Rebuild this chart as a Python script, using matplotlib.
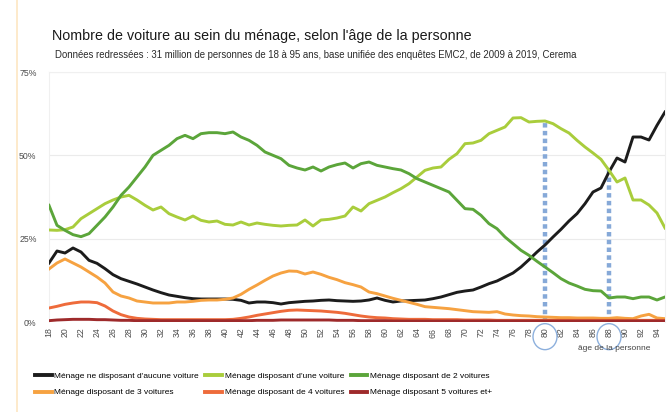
import numpy as np
import matplotlib
matplotlib.use("Agg")
import matplotlib.pyplot as plt
from matplotlib.patches import Ellipse
from matplotlib.lines import Line2D

plt.rcParams['font.family'] = ['Liberation Sans', 'DejaVu Sans']

# Âges de 18 à 95 ans
ages = list(range(18, 96))

# Part des ménages (%) selon le nombre de voitures
aucune = [17.7, 21.3, 20.7, 22.2, 21.0, 18.5, 17.6, 16.0, 14.2, 13.0,
          12.2, 11.4, 10.5, 9.6, 8.8, 8.1, 7.7, 7.3, 7.0, 6.9,
          6.9, 6.9, 6.9, 6.8, 6.5, 5.7, 6.0, 6.0, 5.8, 5.4,
          5.8, 6.0, 6.2, 6.3, 6.5, 6.6, 6.4, 6.3, 6.2, 6.3,
          6.6, 7.2, 6.5, 6.0, 6.3, 6.4, 6.5, 6.6, 7.0, 7.5,
          8.2, 8.9, 9.3, 9.6, 10.5, 11.5, 12.3, 13.5, 14.7, 16.5,
          18.7, 21.0, 23.1, 25.5, 27.8, 30.3, 32.5, 35.5, 39.0, 40.2,
          45.0, 49.2, 48.0, 55.5, 55.5, 54.6, 59.0, 63.0]
une = [27.6, 27.5, 27.7, 28.5, 31.0, 32.5, 34.0, 35.5, 36.6, 37.5,
       38.0, 36.6, 35.0, 33.6, 34.5, 32.5, 31.5, 30.6, 31.8, 30.5,
       30.0, 30.3, 29.3, 29.1, 30.0, 29.1, 29.7, 29.3, 29.0, 28.8,
       29.0, 29.1, 30.6, 28.8, 30.6, 30.8, 31.2, 31.8, 34.5, 33.3,
       35.5, 36.5, 37.5, 38.8, 40.0, 41.5, 43.5, 45.5, 46.2, 46.5,
       48.8, 50.5, 53.5, 53.7, 54.5, 56.5, 57.5, 58.5, 61.2, 61.3,
       60.0, 60.2, 60.3, 59.5, 58.0, 56.7, 54.5, 52.5, 50.7, 48.8,
       45.5, 42.0, 43.2, 36.6, 36.6, 35.1, 32.7, 28.2]
deux = [35.0, 29.0, 27.5, 26.2, 25.6, 26.5, 29.0, 31.5, 34.5, 38.0,
        40.5, 43.5, 46.5, 50.0, 51.5, 53.0, 55.0, 56.0, 55.0, 56.5,
        56.8, 56.8, 56.5, 57.0, 55.5, 54.5, 53.0, 51.0, 50.0, 49.0,
        47.0, 46.2, 45.6, 46.5, 45.3, 46.5, 47.2, 47.7, 46.2, 47.5,
        48.0, 47.0, 46.5, 46.0, 45.6, 44.5, 43.0, 42.0, 41.0, 40.0,
        39.0, 36.5, 34.0, 33.8, 32.0, 29.5, 28.0, 25.5, 23.5, 21.5,
        20.0, 18.2, 16.5, 14.8, 13.0, 11.7, 10.8, 9.8, 9.4, 9.3,
        7.2, 7.5, 7.5, 7.0, 7.5, 7.5, 6.6, 7.5]
trois = [15.9, 17.7, 18.9, 17.7, 16.5, 15.0, 13.5, 11.7, 9.0, 7.8,
         7.2, 6.3, 6.0, 5.7, 5.7, 5.7, 6.0, 6.0, 6.2, 6.5,
         6.6, 6.6, 6.8, 7.2, 8.3, 9.8, 11.1, 12.5, 13.8, 14.7,
         15.3, 15.2, 14.4, 15.0, 14.3, 13.4, 12.7, 11.8, 11.2, 10.5,
         9.0, 8.5, 7.8, 7.1, 6.5, 5.9, 5.3, 4.6, 4.4, 4.2,
         4.0, 3.7, 3.4, 3.1, 3.0, 2.9, 3.1, 2.4, 2.1, 1.9,
         1.8, 1.6, 1.5, 1.4, 1.3, 1.3, 1.2, 1.2, 1.2, 1.1,
         1.1, 1.3, 1.1, 1.0, 1.8, 2.3, 1.2, 1.0]
quatre = [4.2, 4.7, 5.3, 5.7, 6.0, 6.0, 5.8, 4.8, 3.3, 2.2,
          1.5, 1.1, 0.9, 0.8, 0.7, 0.7, 0.7, 0.7, 0.7, 0.7,
          0.7, 0.7, 0.7, 0.8, 1.1, 1.5, 2.0, 2.4, 2.8, 3.2,
          3.5, 3.6, 3.5, 3.4, 3.3, 3.1, 2.9, 2.6, 2.2, 1.8,
          1.5, 1.3, 1.2, 1.0, 0.9, 0.8, 0.8, 0.8, 0.7, 0.7,
          0.7, 0.7, 0.6, 0.6, 0.6, 0.6, 0.5, 0.5, 0.5, 0.5,
          0.5, 0.5, 0.5, 0.5, 0.5, 0.5, 0.5, 0.5, 0.5, 0.5,
          0.5, 0.5, 0.5, 0.5, 0.5, 0.5, 0.5, 0.5]
cinq = [0.4, 0.6, 0.7, 0.8, 0.8, 0.8, 0.7, 0.7, 0.6, 0.5,
        0.5, 0.4, 0.4, 0.4, 0.4, 0.4, 0.4, 0.4, 0.4, 0.4,
        0.4, 0.4, 0.4, 0.4, 0.4, 0.4, 0.5, 0.5, 0.5, 0.6,
        0.6, 0.6, 0.6, 0.6, 0.6, 0.6, 0.5, 0.5, 0.5, 0.4,
        0.4, 0.4, 0.4, 0.3, 0.3, 0.3, 0.3, 0.3, 0.3, 0.3,
        0.3, 0.3, 0.3, 0.3, 0.3, 0.3, 0.3, 0.3, 0.3, 0.3,
        0.3, 0.3, 0.3, 0.3, 0.3, 0.3, 0.3, 0.3, 0.3, 0.3,
        0.3, 0.3, 0.3, 0.3, 0.3, 0.3, 0.3, 0.3]

series = [
    ("Ménage ne disposant d'aucune voiture", aucune, "#1c1c1c"),
    ("Ménage disposant d'une voiture", une, "#a9cd3c"),
    ("Ménage disposant de 2 voitures", deux, "#5ba53a"),
    ("Ménage disposant de 3 voitures", trois, "#f6a241"),
    ("Ménage disposant de 4 voitures", quatre, "#ee6b3b"),
    ("Ménage disposant 5 voitures et+", cinq, "#9e2a2b"),
]

# Repères en pointillés (âge, hauteur en %)
reperes_age = [80, 88]
reperes_haut = [60.3, 45.5]

y_ticks = [0, 25, 50, 75]
x_ticks = list(range(18, 95, 2))

fig = plt.figure(figsize=(6.68, 4.12), dpi=100)
ax = fig.add_axes([49 / 668, 90 / 412, 616 / 668, 250 / 412])

ax.vlines(reperes_age, 0, reperes_haut, colors="#86a9d8", linewidth=3.2,
          linestyles=(0, (1.0, 0.75)), zorder=1)

handles = {}
for label, vals, color in series:
    line, = ax.plot(ages, vals, color=color, linewidth=2.1, label=label,
                    zorder=3, solid_joinstyle="round")
    handles[label] = line

ax.set_xlim(18, 95)
ax.set_ylim(0, 75)
ax.set_yticks(y_ticks)
ax.set_yticklabels([f"{t}%" for t in y_ticks])
ax.set_xticks(x_ticks)
ax.set_xticklabels([str(t) for t in x_ticks], rotation=90)
ax.tick_params(axis="both", length=0, labelsize=6.3, colors="#4d4d4d")
ax.tick_params(axis="y", pad=9)
ax.tick_params(axis="x", pad=4)
ax.grid(axis="y", color="#ebebeb", linewidth=0.8)
ax.set_axisbelow(True)
for side in ["top", "right", "left"]:
    ax.spines[side].set_color("#f0f0f0")
    ax.spines[side].set_linewidth(0.8)
ax.spines["bottom"].set_visible(False)

# Cercles autour des étiquettes 80 et 88
for a in reperes_age:
    ell = Ellipse((a, -4.4), width=3.0, height=7.8, fill=False,
                  edgecolor="#8db0dd", linewidth=1.0, clip_on=False,
                  transform=ax.transData)
    ax.add_patch(ell)

fig.text(578 / 668, 1 - 349 / 412, "âge de la personne", fontsize=6,
         color="#444444", va="center", ha="left")

fig.text(52 / 668, 1 - 36 / 412,
         "Nombre de voiture au sein du ménage, selon l'âge de la personne",
         fontsize=10.3, color="#1a1a1a", va="center", ha="left")
fig.text(55 / 668, 1 - 55 / 412,
         "Données redressées : 31 million de personnes de 18 à 95 ans, "
         "base unifiée des enquêtes EMC2, de 2009 à 2019, Cerema",
         fontsize=6.9, color="#2a2a2a", va="center", ha="left")

# Liseré gauche de la diapositive
fig.add_artist(Line2D([17 / 668, 17 / 668], [0, 1], color="#fde6c2",
                      linewidth=1.2, transform=fig.transFigure))

ordre = [0, 3, 1, 4, 2, 5]
leg = fig.legend([handles[series[i][0]] for i in ordre],
                 [series[i][0] for i in ordre],
                 ncol=3, loc="upper left", bbox_to_anchor=(35 / 668, 1 - 372 / 412),
                 frameon=False, fontsize=6.0, handlelength=2.0,
                 handletextpad=0.3, columnspacing=0.8, labelspacing=1.05,
                 borderaxespad=0, borderpad=0)
for h in leg.legend_handles:
    h.set_linewidth(2.8)

fig.savefig("out.png", dpi=100, facecolor="white")
